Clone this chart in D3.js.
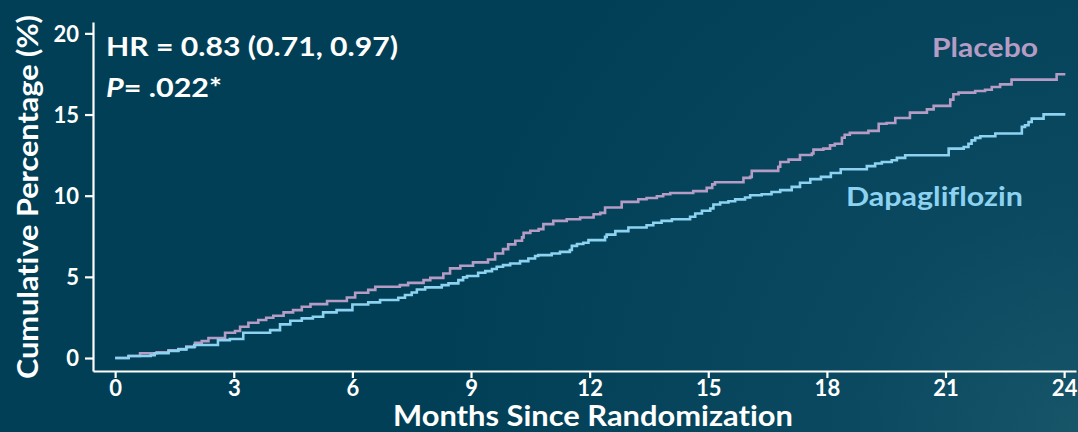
<!DOCTYPE html>
<html>
<head>
<meta charset="utf-8">
<script src="https://cdn.jsdelivr.net/npm/d3@7"></script>
<style>
  html, body { margin: 0; padding: 0; background: #003f56; }
  svg { display: block; }
  text { font-family: Lato, "Open Sans", "DejaVu Sans", sans-serif; font-weight: 700; font-variant-ligatures: none; }
</style>
</head>
<body>
<svg id="chart" width="1078" height="432"></svg>
<script>
// Kaplan–Meier style cumulative incidence, [month, cumulative %] at each step
const placeboSteps = [
  [0, 0], [0.34, 0.12], [0.63, 0.29], [1.05, 0.35], [1.35, 0.47], [1.6, 0.55],
  [1.8, 0.7], [2.02, 0.94], [2.19, 1.04], [2.36, 1.23], [2.78, 1.56], [3.03, 1.66],
  [3.16, 1.93], [3.37, 2.17], [3.62, 2.34], [3.82, 2.48], [4.0, 2.6], [4.26, 2.81],
  [4.5, 2.95], [4.72, 3.16], [4.94, 3.32], [5.36, 3.51], [5.86, 3.73], [6.07, 4.02],
  [6.4, 4.2], [6.58, 4.39], [7.2, 4.49], [7.41, 4.63], [7.8, 4.8], [7.97, 4.94],
  [8.3, 5.21], [8.47, 5.52], [8.73, 5.68], [9.05, 5.89], [9.43, 6.07], [9.61, 6.44],
  [9.81, 6.71], [9.94, 7.0], [10.12, 7.22], [10.29, 7.43], [10.33, 7.71], [10.5, 7.84],
  [10.71, 7.94], [10.83, 8.25], [11.08, 8.45], [11.42, 8.55], [11.76, 8.66], [12.1, 8.86],
  [12.27, 8.94], [12.39, 9.27], [12.81, 9.62], [13.23, 9.78], [13.44, 9.86], [13.7, 9.97],
  [13.86, 10.09], [14.04, 10.17], [14.62, 10.28], [14.96, 10.48], [15.1, 10.7], [15.17, 10.83],
  [15.89, 11.1], [16.06, 11.16], [16.1, 11.53], [16.77, 11.78], [16.82, 12.08], [17.03, 12.22],
  [17.32, 12.51], [17.62, 12.6], [17.66, 12.84], [17.91, 12.9], [18.08, 13.1], [18.2, 13.2],
  [18.38, 13.57], [18.45, 13.75], [18.58, 13.87], [19.05, 13.99], [19.31, 14.43], [19.51, 14.48],
  [19.73, 14.79], [20.1, 15.12], [20.53, 15.32], [20.7, 15.53], [21.12, 15.92], [21.2, 16.25],
  [21.33, 16.35], [21.75, 16.45], [22.0, 16.53], [22.17, 16.7], [22.38, 16.86], [22.67, 17.15],
  [23.81, 17.48], [24.03, 17.48]
];

const dapagliflozinSteps = [
  [0, 0], [0.34, 0.12], [0.9, 0.18], [1.0, 0.29], [1.35, 0.43], [1.6, 0.53],
  [1.8, 0.66], [2.0, 0.8], [2.6, 1.1], [2.9, 1.17], [3.24, 1.56], [3.92, 1.72],
  [4.17, 2.07], [4.43, 2.3], [4.72, 2.44], [5.0, 2.54], [5.26, 2.81], [5.6, 2.95],
  [6.0, 3.3], [6.4, 3.43], [6.7, 3.57], [7.16, 3.71], [7.33, 3.88], [7.5, 4.04],
  [7.63, 4.22], [7.84, 4.35], [8.26, 4.49], [8.43, 4.6], [8.68, 4.8], [8.8, 4.97],
  [8.9, 5.05], [9.18, 5.25], [9.36, 5.35], [9.53, 5.48], [9.65, 5.62], [9.81, 5.72],
  [9.99, 5.82], [10.24, 5.97], [10.45, 6.13], [10.62, 6.28], [10.7, 6.34], [11.04, 6.44],
  [11.25, 6.54], [11.5, 6.65], [11.55, 6.91], [11.68, 7.02], [11.84, 7.1], [11.97, 7.26],
  [12.39, 7.46], [12.43, 7.6], [12.65, 7.82], [12.98, 8.04], [13.44, 8.18], [13.61, 8.33],
  [13.82, 8.45], [14.08, 8.55], [14.54, 8.7], [14.67, 8.9], [14.84, 9.07], [15.05, 9.21],
  [15.13, 9.46], [15.3, 9.58], [15.51, 9.66], [15.68, 9.77], [15.93, 9.89], [16.06, 10.03],
  [16.35, 10.09], [16.6, 10.23], [16.82, 10.34], [17.11, 10.54], [17.32, 10.8], [17.58, 11.02],
  [17.85, 11.16], [18.1, 11.4], [18.35, 11.63], [19.01, 11.82], [19.22, 11.98], [19.39, 12.08],
  [19.64, 12.18], [19.77, 12.33], [19.98, 12.49], [21.08, 12.9], [21.46, 13.0], [21.58, 13.2],
  [21.66, 13.41], [21.75, 13.56], [21.88, 13.66], [22.26, 13.83], [22.93, 14.24], [23.01, 14.34],
  [23.1, 14.54], [23.18, 14.75], [23.48, 15.01], [24.03, 15.01]
];

const xTicks = [0, 3, 6, 9, 12, 15, 18, 21, 24];
const yTicks = [0, 5, 10, 15, 20];

const seriesNames = ["Placebo", "Dapagliflozin"];
const seriesColors = ["#b59cc5", "#8dd3f1"];

const statLines = ["HR = 0.83 (0.71, 0.97)", "= .022*"];

const svg = d3.select("#chart");
const W = 1078, H = 432;

// background: deep teal with a soft lighter glow toward the lower right
const defs = svg.append("defs");
const grad = defs.append("radialGradient")
  .attr("id", "bg").attr("gradientUnits", "userSpaceOnUse")
  .attr("cx", 1078).attr("cy", 432).attr("r", 650);
grad.append("stop").attr("offset", "0%").attr("stop-color", "#175569");
grad.append("stop").attr("offset", "35%").attr("stop-color", "#0a4960");
grad.append("stop").attr("offset", "100%").attr("stop-color", "#003f56");
svg.append("rect").attr("width", W).attr("height", H).attr("fill", "url(#bg)");

// scales: axis lines sit slightly outside the data range
const x = d3.scaleLinear().domain([-0.56, 24.3]).range([93, 1076]);
const y = d3.scaleLinear().domain([-0.8, 20.7]).range([371, 22]);

// axes
const xAxis = svg.append("g")
  .attr("transform", `translate(0,${y(-0.8)})`)
  .call(d3.axisBottom(x).tickValues(xTicks).tickSize(7).tickSizeOuter(0).tickPadding(2));
const yAxis = svg.append("g")
  .attr("transform", `translate(${x(-0.56)},0)`)
  .call(d3.axisLeft(y).tickValues(yTicks).tickSize(8).tickSizeOuter(0).tickPadding(6));

[xAxis, yAxis].forEach(g => {
  g.select(".domain").attr("stroke", "#ffffff").attr("stroke-width", 2.2);
  g.selectAll(".tick line").attr("stroke", "#ffffff").attr("stroke-width", 2.2);
  g.selectAll(".tick text").attr("fill", "#ffffff")
    .style("font-family", "Lato, 'Open Sans', sans-serif")
    .style("font-weight", 700).style("font-size", "22px");
});
yAxis.selectAll(".tick text").attr("dy", "0.35em");

// axis titles
svg.append("text")
  .attr("x", 593).attr("y", 426)
  .attr("text-anchor", "middle").attr("fill", "#ffffff")
  .style("font-size", "28px")
  .attr("textLength", 400).attr("lengthAdjust", "spacingAndGlyphs")
  .text("Months Since Randomization");

svg.append("text")
  .attr("transform", "translate(38,197) rotate(-90)")
  .attr("text-anchor", "middle").attr("fill", "#ffffff")
  .style("font-size", "28px")
  .attr("textLength", 364).attr("lengthAdjust", "spacingAndGlyphs")
  .text("Cumulative Percentage (%)");

// step curves
const line = d3.line().x(d => x(d[0])).y(d => y(d[1])).curve(d3.curveStepAfter);
[placeboSteps, dapagliflozinSteps].forEach((data, i) => {
  svg.append("path")
    .datum(data)
    .attr("fill", "none")
    .attr("stroke", seriesColors[i])
    .attr("stroke-width", 2.6)
    .attr("stroke-linejoin", "miter")
    .attr("d", line);
});

// series labels
svg.append("text").attr("x", 932).attr("y", 57)
  .attr("fill", seriesColors[0])
  .style("font-size", "27px")
  .attr("textLength", 106).attr("lengthAdjust", "spacingAndGlyphs")
  .text(seriesNames[0]);
svg.append("text").attr("x", 846).attr("y", 206)
  .attr("fill", seriesColors[1])
  .style("font-size", "27px")
  .attr("textLength", 177).attr("lengthAdjust", "spacingAndGlyphs")
  .text(seriesNames[1]);

// hazard ratio and p-value
svg.append("text").attr("x", 106).attr("y", 56)
  .attr("fill", "#ffffff").style("font-size", "27px")
  .attr("textLength", 292).attr("lengthAdjust", "spacingAndGlyphs")
  .text(statLines[0]);
const pText = svg.append("text").attr("x", 106).attr("y", 97)
  .attr("fill", "#ffffff").style("font-size", "27px")
  .attr("textLength", 116).attr("lengthAdjust", "spacingAndGlyphs");
pText.append("tspan").style("font-style", "italic").text("P");
pText.append("tspan").text(statLines[1]);
</script>
</body>
</html>
